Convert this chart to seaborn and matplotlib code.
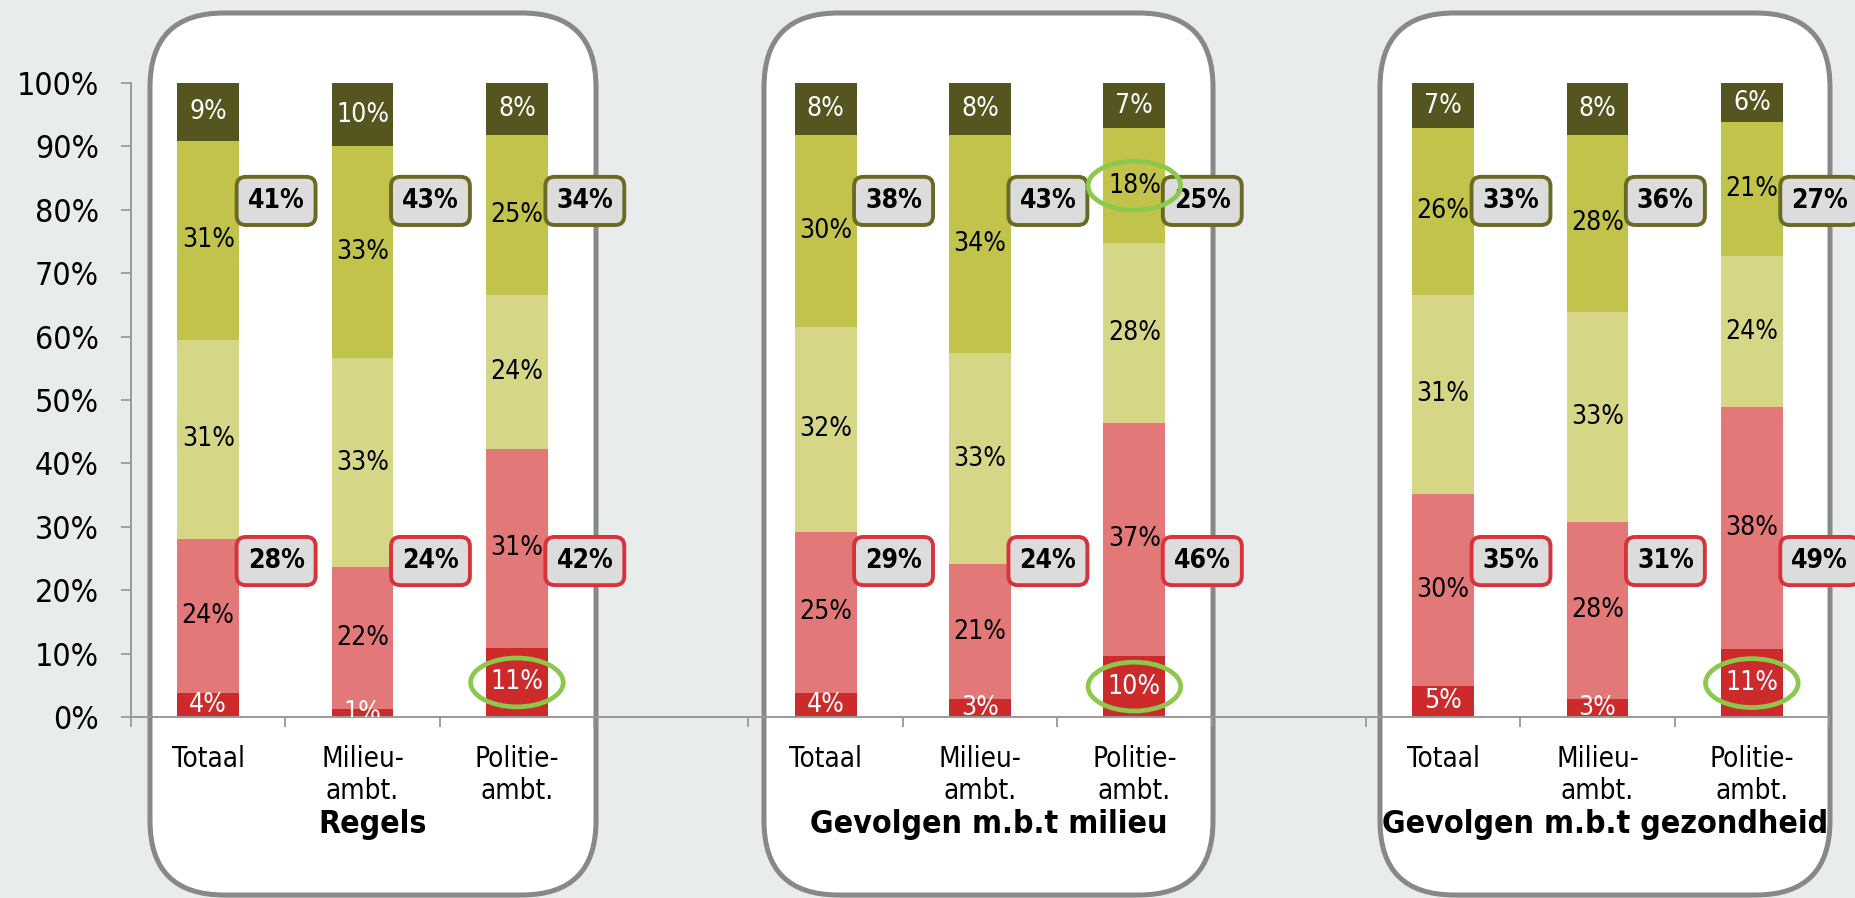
import numpy as np
import matplotlib
matplotlib.use("Agg")
import matplotlib.pyplot as plt
from matplotlib.patches import FancyBboxPatch, Ellipse
import seaborn as sns

# Data (percentages, one list per panel)
categories = ["Totaal", "Milieu-\nambt.", "Politie-\nambt."]
titles = ["Regels", "Gevolgen m.b.t milieu", "Gevolgen m.b.t gezondheid"]

rood = [[3.8, 1.2, 10.9], [3.8, 2.8, 9.6], [4.9, 2.8, 10.7]]
lichtrood = [[24.3, 22.4, 31.4], [25.4, 21.3, 36.8], [30.3, 28.0, 38.2]]
lichtgroen = [[31.4, 33.0, 24.3], [32.3, 33.3, 28.3], [31.4, 33.1, 23.8]]
groen = [[31.4, 33.4, 25.2], [30.3, 34.4, 18.2], [26.3, 27.9, 21.1]]
donkergroen = [[9.1, 10.0, 8.2], [8.2, 8.2, 7.1], [7.1, 8.2, 6.2]]

# totals shown in the callout boxes
totaal_boven = [[41, 43, 34], [38, 43, 25], [33, 36, 27]]
totaal_onder = [[28, 24, 42], [29, 24, 46], [35, 31, 49]]

# circled segments: (panel, bar, layer index)
omcirkeld = [(0, 2, 0), (1, 2, 3), (1, 2, 0), (2, 2, 0)]

layers = [rood, lichtrood, lichtgroen, groen, donkergroen]
colors = ["#cd2a2b", "#e27877", "#d5d787", "#c2c34a", "#55551f"]
text_colors = ["white", "black", "black", "black", "white"]
grey = "#999999"

sns.set_theme(style="white")
plt.rcParams["font.family"] = ["DejaVu Sans"]
plt.rcParams["font.stretch"] = "condensed"
plt.rcParams["text.color"] = "black"

W, H = 1855, 898
fig = plt.figure(figsize=(W / 100, H / 100), dpi=100)
fig.patch.set_facecolor("#e8ecec")


def fx(px):
    return px / W


def fy(py):
    return 1 - py / H


# rounded white panels behind each group
panel_x = [(150, 596), (764, 1213), (1380, 1830)]
for x0, x1 in panel_x:
    p = FancyBboxPatch((fx(x0), fy(895)), fx(x1 - x0), (895 - 13) / H,
                       boxstyle="round,pad=0,rounding_size=0.04",
                       mutation_aspect=W / H, transform=fig.transFigure,
                       fc="white", ec="#888888", lw=3.6, zorder=-1)
    fig.add_artist(p)

# one category axis: 3 bars, empty slot, 3 bars, empty slot, 3 bars
ax = fig.add_axes([fx(131), fy(717), fx(1829 - 131), (717 - 83) / H])
ax.set_facecolor("none")

xpos = np.array([4 * i + j for i in range(3) for j in range(3)])
vals = np.array([np.ravel(layer) for layer in layers])
cum = np.cumsum(vals, axis=0)

# stacked bars: draw cumulative totals from the top layer down
for k in reversed(range(len(layers))):
    sns.barplot(x=xpos, y=cum[k], color=colors[k], width=0.4, native_scale=True,
                saturation=1, linewidth=0, ax=ax)

for k in range(len(layers)):
    for n, x in enumerate(xpos):
        ax.text(x, cum[k][n] - vals[k][n] / 2, f"{vals[k][n]:.0f}%",
                ha="center", va="center", fontsize=19,
                color=text_colors[k], clip_on=True, zorder=4)

# callout boxes with the summed shares
flat_boven = np.ravel(totaal_boven)
flat_onder = np.ravel(totaal_onder)
for n, x in enumerate(xpos):
    ax.text(x + 0.44, 81.4, f"{flat_boven[n]}%", ha="center", va="center",
            fontsize=19, fontweight="bold", zorder=6,
            bbox=dict(boxstyle="round,pad=0.42,rounding_size=0.35",
                      fc="#dcdcdc", ec="#6a6a24", lw=2.8))
    ax.text(x + 0.44, 24.6, f"{flat_onder[n]}%", ha="center", va="center",
            fontsize=19, fontweight="bold", zorder=6,
            bbox=dict(boxstyle="round,pad=0.42,rounding_size=0.35",
                      fc="#dcdcdc", ec="#d8323a", lw=2.8))

for i, j, k in omcirkeld:
    n = 3 * i + j
    yc = cum[k][n] - vals[k][n] / 2
    ax.add_patch(Ellipse((xpos[n], yc), 0.6, 7.7, fill=False, ec="#8cc84b",
                         lw=3.4, zorder=7, clip_on=False))

ax.set_xlim(-0.5, 10.5)
ax.set_ylim(0, 100)
ax.set_xlabel("")
ax.set_ylabel("")
ax.set_xticks(np.arange(-0.5, 11, 1.0))
ax.set_xticklabels([])
ax.set_xticks(xpos, labels=categories * 3, minor=True)
ax.tick_params(axis="x", which="major", bottom=True, length=7, width=1.3,
               color=grey, direction="out")
ax.tick_params(axis="x", which="minor", bottom=True, length=0, pad=20,
               labelsize=20, labelcolor="black")

ax.set_yticks(range(0, 101, 10))
ax.set_yticklabels([f"{v}%" for v in range(0, 101, 10)])
ax.tick_params(axis="y", left=True, length=7, width=1.3, color=grey,
               pad=16, labelsize=23, labelcolor="black")

for side in ["top", "right"]:
    ax.spines[side].set_visible(False)
for side in ["left", "bottom"]:
    ax.spines[side].set_color(grey)
    ax.spines[side].set_linewidth(1.4)

for (x0, x1), title in zip(panel_x, titles):
    fig.text(fx((x0 + x1) / 2), fy(825), title, ha="center", va="center",
             fontsize=23, fontweight="bold")

fig.savefig("out.png", dpi=100)
